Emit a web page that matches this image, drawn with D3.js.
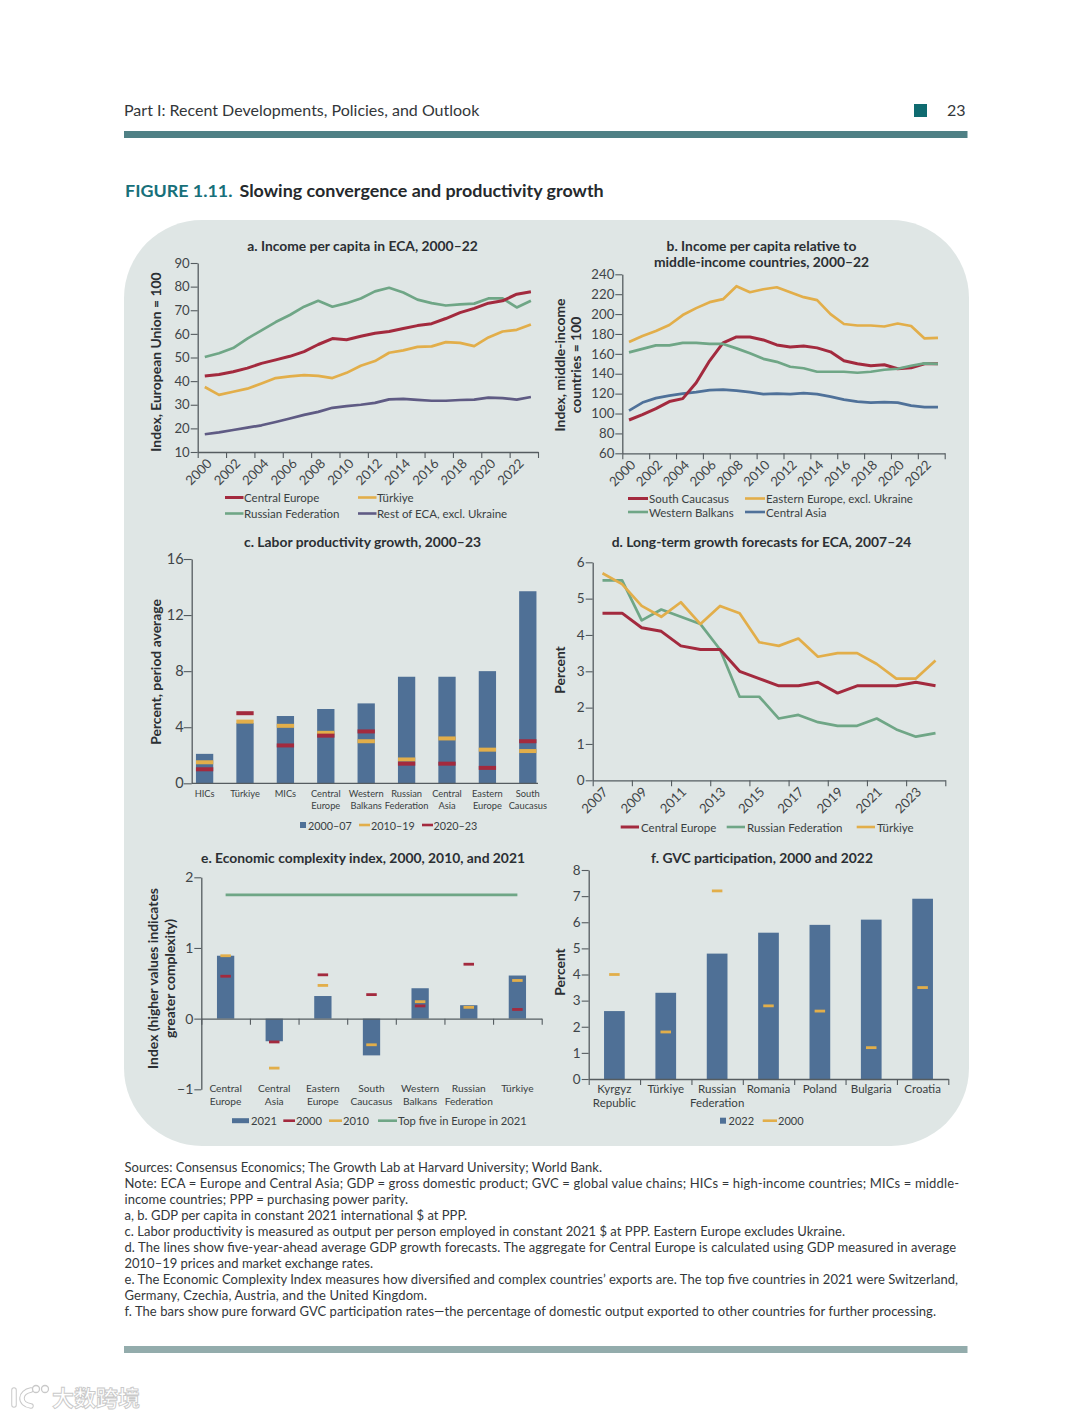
<!DOCTYPE html>
<html>
<head>
<meta charset="utf-8">
<script src="https://cdn.jsdelivr.net/npm/d3@7"></script>
<style>
body { margin: 0; background: #fff; }
text { font-family: Lato, "Open Sans", sans-serif; fill: #3a3f42; }
.ptitle { font-weight: 700; font-size: 13.85px; fill: #2b2f33; text-anchor: middle; }
.ytitle { font-weight: 700; font-size: 13.9px; fill: #2b2f33; text-anchor: middle; }
.tick text { font-family: Lato, sans-serif; fill: #3f4548; }
.leg { dominant-baseline: central; }
.note { font-size: 13px; fill: #33373a; }
</style>
</head>
<body>
<div id="chart"></div>
<script>
// panel a
var yearsA = d3.range(2000, 2024);
var aCentral = [42.2,42.8,44,45.5,47.5,49,50.5,52.5,55.5,58,57.5,59,60.3,61,62.3,63.5,64.3,66.5,69,70.8,73,74,76.8,77.8];
var aRussia = [50.2,51.8,54,58,61.5,65,68,71.5,74,71.5,73,75,78,79.5,77.5,74.5,73,72,72.5,72.8,75,75,71.2,74];
var aTurkiye = [37.5,34.2,35.5,36.8,39,41.3,42,42.5,42.2,41.3,43.5,46.5,48.5,52,53,54.5,54.7,56.5,56.2,54.8,58.5,61,61.7,64];
var aRest = [17.5,18.3,19.3,20.3,21.3,22.7,24.2,25.7,27,28.7,29.4,30,30.8,32.3,32.5,32.1,31.7,31.7,32,32.2,33,32.8,32.2,33.3];
// panel b
var bCaucasus = [93.5,99,105,112,115,131,153,171,177,177,174,169,167,168,166,162,153,150,148,149,145,146,150,150];
var bEastern = [172,178,183,189,199,206,212,215,228,222,225,227,222,217,214,200,190,188.5,188.5,187.5,190.5,188,175.5,176];
var bBalkans = [161.5,165,168.5,168.5,171,171,170,170,165.5,160.5,155,152,147,145.5,142,142,142,141,142,144,145,148,150.5,150];
var bAsia = [103,111,115.5,118,120,121.5,123.5,124,123,121.5,119.5,120,119.5,120.5,119.5,117,114,112,111,111.5,111,108,106.5,106.5];
// panel c
var cCats = [["HICs"],["Türkiye"],["MICs"],["Central","Europe"],["Western","Balkans"],["Russian","Federation"],["Central","Asia"],["Eastern","Europe"],["South","Caucasus"]];
var c0007 = [2.1,4.3,4.8,5.3,5.7,7.6,7.6,8.0,13.7];
var c1019 = [1.5,4.4,4.1,3.6,3.0,1.7,3.2,2.4,2.3];
var c2023 = [1.0,5.0,2.7,3.4,3.7,1.4,1.4,1.1,3.0];
// panel d
var yearsD = d3.range(2007, 2025);
var dCentral = [4.6,4.6,4.2,4.1,3.7,3.6,3.6,3.0,2.8,2.6,2.6,2.7,2.4,2.6,2.6,2.6,2.7,2.6];
var dRussia = [5.5,5.5,4.4,4.7,4.5,4.3,3.6,2.3,2.3,1.7,1.8,1.6,1.5,1.5,1.7,1.4,1.2,1.3];
var dTurkiye = [5.7,5.4,4.8,4.5,4.9,4.3,4.8,4.6,3.8,3.7,3.9,3.4,3.5,3.5,3.2,2.8,2.8,3.3];
// panel e
var eCats = [["Central","Europe"],["Central","Asia"],["Eastern","Europe"],["South","Caucasus"],["Western","Balkans"],["Russian","Federation"],["Türkiye"]];
var e2021 = [0.89,-0.32,0.32,-0.52,0.43,0.19,0.61];
var e2000 = [0.6,-0.33,0.62,0.34,0.18,0.77,0.13];
var e2010 = [0.89,-0.7,0.47,-0.37,0.24,0.16,0.54];
var eTopFive = 1.75;
// panel f
var fCats = [["Kyrgyz","Republic"],["Türkiye"],["Russian","Federation"],["Romania"],["Poland"],["Bulgaria"],["Croatia"]];
var f2022 = [2.6,3.3,4.8,5.6,5.9,6.1,6.9];
var f2000 = [4,1.8,7.2,2.8,2.6,1.2,3.5];

var noteLines = [
  "Sources: Consensus Economics; The Growth Lab at Harvard University; World Bank.",
  "Note: ECA = Europe and Central Asia; GDP = gross domestic product; GVC = global value chains; HICs = high-income countries; MICs = middle-",
  "income countries; PPP = purchasing power parity.",
  "a, b. GDP per capita in constant 2021 international $ at PPP.",
  "c. Labor productivity is measured as output per person employed in constant 2021 $ at PPP. Eastern Europe excludes Ukraine.",
  "d. The lines show five-year-ahead average GDP growth forecasts. The aggregate for Central Europe is calculated using GDP measured in average",
  "2010–19 prices and market exchange rates.",
  "e. The Economic Complexity Index measures how diversified and complex countries’ exports are. The top five countries in 2021 were Switzerland,",
  "Germany, Czechia, Austria, and the United Kingdom.",
  "f. The bars show pure forward GVC participation rates—the percentage of domestic output exported to other countries for further processing."
];
// right ends of the note lines, the page font is a bit wider than Lato
var noteEnds = [602, 959, 408, 467, 845, 956, 373, 958, 427, 936];

var RED = "#a32a3e", YELLOW = "#e2ae4a", GREEN = "#6fa686", PURPLE = "#5f5b84", BLUE = "#4f7199", BAR = "#4f7096", AXIS = "#555c60";

var svg = d3.select("#chart").append("svg").attr("width", 1080).attr("height", 1418);

// page furniture
svg.append("text").attr("x", 124).attr("y", 116).attr("font-size", 16).style("fill", "#33373a")
  .text("Part I: Recent Developments, Policies, and Outlook");
svg.append("rect").attr("x", 914).attr("y", 104).attr("width", 13).attr("height", 13).attr("fill", "#0f6b70");
svg.append("text").attr("x", 947).attr("y", 116).attr("font-size", 16).style("fill", "#33373a").text("23");
svg.append("rect").attr("x", 124).attr("y", 131).attr("width", 843.5).attr("height", 7).attr("fill", "#4f8085");
svg.append("rect").attr("x", 124).attr("y", 1346).attr("width", 843.5).attr("height", 7).attr("fill", "#93acac");

var fig = svg.append("text").attr("x", 125).attr("y", 197).attr("font-size", 17.9).attr("font-weight", 700);
fig.append("tspan").style("fill", "#17707a").text("FIGURE 1.11.");
fig.append("tspan").attr("dx", 7).style("fill", "#25292c").text("Slowing convergence and productivity growth");

svg.append("rect").attr("x", 124).attr("y", 220).attr("width", 845).attr("height", 926).attr("rx", 78).attr("ry", 78).attr("fill", "#dfe6e5");

svg.selectAll(".note").data(noteLines).enter().append("text")
  .attr("class", "note")
  .attr("x", 124.5)
  .attr("y", (d, i) => 1172 + i * 16)
  .attr("textLength", (d, i) => noteEnds[i] - 124.5)
  .attr("lengthAdjust", "spacing")
  .text(d => d);

// watermark
var wm = svg.append("g").attr("fill", "none").attr("stroke-linecap", "round");
var kLogo = "M14 1390V1405M31 1390C20 1392 18 1404 31 1406";
wm.append("path").attr("d", kLogo).attr("stroke", "#c9c9c9").attr("stroke-width", 5.5);
wm.append("path").attr("d", kLogo).attr("stroke", "#fff").attr("stroke-width", 3.5);
wm.append("circle").attr("cx", 36).attr("cy", 1389).attr("r", 3.5).attr("stroke", "#c9c9c9").attr("stroke-width", 1.3).attr("fill", "#fff");
wm.append("circle").attr("cx", 45).attr("cy", 1389).attr("r", 3.5).attr("stroke", "#c9c9c9").attr("stroke-width", 1.3).attr("fill", "#fff");
wm.append("text").attr("x", 52).attr("y", 1406).attr("font-size", 22).attr("font-weight", 700)
  .style("font-family", "'Noto Sans CJK SC'").style("fill", "#fff").style("stroke", "#c9c9c9").attr("stroke-width", 0.9).text("大数跨境");

function title(lines, cx, y) {
  lines.forEach(function(l, i) {
    svg.append("text").attr("class", "ptitle").attr("x", cx).attr("y", y + i * 16).text(l);
  });
}

function yTitle(lines, xs, cy) {
  lines.forEach(function(l, i) {
    svg.append("text").attr("class", "ytitle")
      .attr("transform", "translate(" + xs[i] + "," + cy + ") rotate(-90)")
      .text(l);
  });
}

function styleAxis(g, size) {
  g.selectAll(".domain").attr("stroke", AXIS).attr("stroke-width", 1.3);
  g.selectAll(".tick line").attr("stroke", AXIS).attr("stroke-width", 1.1);
  g.selectAll(".tick text").attr("font-size", size);
}

function yAxis(y, left, ticks, size) {
  var g = svg.append("g").attr("transform", "translate(" + left + ",0)")
    .call(d3.axisLeft(y).tickValues(ticks).tickSize(7).tickSizeOuter(0).tickPadding(1).tickFormat(d => d < 0 ? "−" + (-d) : d));
  styleAxis(g, size);
  return g;
}

// x axis with ticks on the band edges, labelled every `step` bands and turned 45 degrees
function yearAxis(labels, left, right, base, step, size, shift) {
  var edge = d3.scaleLinear().domain([0, labels.length]).range([left, right]);
  var g = svg.append("g").attr("transform", "translate(0," + base + ")")
    .call(d3.axisBottom(edge)
      .tickValues(d3.range(0, labels.length + 1, step))
      .tickSize(6).tickSizeOuter(0)
      .tickFormat(i => labels[i] === undefined ? "" : labels[i]));
  styleAxis(g, size);
  g.selectAll(".tick text")
    .attr("text-anchor", "end")
    .attr("transform", "translate(" + shift + ",0) rotate(-45)")
    .attr("dx", "-0.1em").attr("dy", "0.55em");
}

function drawLine(x, y, cats, vals, color, w) {
  svg.append("path")
    .datum(vals)
    .attr("fill", "none")
    .attr("stroke", color)
    .attr("stroke-width", w)
    .attr("stroke-linejoin", "round")
    .attr("d", d3.line().x((d, i) => x(cats[i]) + x.bandwidth() / 2).y(d => y(d)));
}

// items: [kind, color, x0, x1, text, textX, thickness]
function legend(items, cy, size) {
  items.forEach(function(it) {
    if (it[0] == "line") {
      svg.append("line").attr("x1", it[2]).attr("x2", it[3]).attr("y1", cy).attr("y2", cy)
        .attr("stroke", it[1]).attr("stroke-width", it[6] || 2.6);
    } else {
      var h = it[6] || 6;
      svg.append("rect").attr("x", it[2]).attr("y", cy - h / 2).attr("width", it[3] - it[2]).attr("height", h).attr("fill", it[1]);
    }
    svg.append("text").attr("class", "leg").attr("x", it[5]).attr("y", cy).attr("font-size", size).text(it[4]);
  });
}

function catLabels(x, keys, cats, y0, size, lh) {
  keys.forEach(function(k, i) {
    cats[i].forEach(function(l, j) {
      svg.append("text").attr("x", x(k) + x.bandwidth() / 2).attr("y", y0 + j * lh)
        .attr("text-anchor", "middle").attr("font-size", size).text(l);
    });
  });
}

function bars(x, y, keys, vals, color, w) {
  svg.selectAll(null).data(vals).enter().append("rect")
    .attr("x", (d, i) => x(keys[i]) + x.bandwidth() / 2 - w / 2)
    .attr("width", w)
    .attr("y", d => Math.min(y(d), y(0)))
    .attr("height", d => Math.abs(y(d) - y(0)))
    .attr("fill", color);
}

function markers(x, y, keys, vals, color, w, h) {
  svg.selectAll(null).data(vals).enter().append("rect")
    .attr("x", (d, i) => x(keys[i]) + x.bandwidth() / 2 - w / 2)
    .attr("width", w)
    .attr("y", d => y(d) - h / 2)
    .attr("height", h)
    .attr("fill", color);
}

// a. Income per capita
function panelA() {
  var x = d3.scaleBand().domain(yearsA).range([197.7, 538]);
  var y = d3.scaleLinear().domain([10, 90]).range([452, 263]);
  yAxis(y, 197.7, d3.range(10, 91, 10), 13.2);
  yearAxis(yearsA, 197.7, 538, 452, 2, 13.2, 4);
  title(["a. Income per capita in ECA, 2000–22"], 362.5, 251);
  yTitle(["Index, European Union = 100"], [161], 362);
  drawLine(x, y, yearsA, aRest, PURPLE, 2.7);
  drawLine(x, y, yearsA, aTurkiye, YELLOW, 2.7);
  drawLine(x, y, yearsA, aRussia, GREEN, 2.7);
  drawLine(x, y, yearsA, aCentral, RED, 3);
  legend([["line", RED, 225, 243.5, "Central Europe", 244, 3], ["line", YELLOW, 358, 376.5, "Türkiye", 377]], 497.5, 11.5);
  legend([["line", GREEN, 225, 243.5, "Russian Federation", 244], ["line", PURPLE, 358, 376.5, "Rest of ECA, excl. Ukraine", 377]], 513.5, 11.5);
}

// b. Income relative to MICs
function panelB() {
  var x = d3.scaleBand().domain(yearsA).range([622.3, 944.7]);
  var y = d3.scaleLinear().domain([60, 240]).range([453.3, 274.3]);
  yAxis(y, 622.3, d3.range(60, 241, 20), 13.2);
  yearAxis(yearsA, 622.3, 944.7, 453.3, 2, 13.2, 3);
  title(["b. Income per capita relative to", "middle-income countries, 2000–22"], 761.5, 251);
  yTitle(["Index, middle-income", "countries = 100"], [565, 580.5], 365);
  drawLine(x, y, yearsA, bAsia, BLUE, 2.7);
  drawLine(x, y, yearsA, bEastern, YELLOW, 2.7);
  drawLine(x, y, yearsA, bCaucasus, RED, 3);
  drawLine(x, y, yearsA, bBalkans, GREEN, 2.7);
  legend([["line", RED, 628, 648, "South Caucasus", 649, 3], ["line", YELLOW, 745, 765, "Eastern Europe, excl. Ukraine", 766]], 498.5, 11.5);
  legend([["line", GREEN, 628, 648, "Western Balkans", 649], ["line", BLUE, 745, 765, "Central Asia", 766]], 512, 11.5);
}

// c. Labor productivity
function panelC() {
  var keys = cCats.map(d => d.join(" "));
  var x = d3.scaleBand().domain(keys).range([184.4, 548]);
  var y = d3.scaleLinear().domain([0, 16]).range([783.3, 559]);
  bars(x, y, keys, c0007, BAR, 17.3);
  markers(x, y, keys, c1019, YELLOW, 17.3, 4);
  markers(x, y, keys, c2023, RED, 17.3, 4);
  yAxis(y, 191.7, [0, 4, 8, 12, 16], 14.5).selectAll(".tick line").attr("x2", -8);
  svg.append("line").attr("x1", 191.7).attr("x2", 538).attr("y1", y(0)).attr("y2", y(0)).attr("stroke", AXIS).attr("stroke-width", 1.3);
  catLabels(x, keys, cCats, 797, 9.3, 12);
  title(["c. Labor productivity growth, 2000–23"], 362.5, 547);
  yTitle(["Percent, period average"], [161], 672);
  legend([["rect", BAR, 300, 306, "2000–07", 308], ["line", YELLOW, 359, 370, "2010–19", 371], ["line", RED, 422, 433, "2020–23", 433.5]], 825, 10.8);
}

// d. Long-term forecasts
function panelD() {
  var x = d3.scaleBand().domain(yearsD).range([592.7, 945.3]);
  var y = d3.scaleLinear().domain([0, 6]).range([780.3, 562.3]);
  yAxis(y, 592.7, d3.range(0, 7), 13.5);
  yearAxis(yearsD, 592.7, 945.3, 780.3, 2, 13.2, 5);
  title(["d. Long-term growth forecasts for ECA, 2007–24"], 761.5, 547);
  yTitle(["Percent"], [565], 670);
  drawLine(x, y, yearsD, dRussia, GREEN, 2.7);
  drawLine(x, y, yearsD, dTurkiye, YELLOW, 2.7);
  drawLine(x, y, yearsD, dCentral, RED, 3);
  legend([["line", RED, 620.7, 639, "Central Europe", 641, 3], ["line", GREEN, 726.7, 745, "Russian Federation", 747], ["line", YELLOW, 856.7, 875, "Türkiye", 877]], 827, 11.5);
}

// band edge ticks for the two lower category charts
function edgeAxis(n, left, right, base) {
  var edge = d3.scaleLinear().domain([0, n]).range([left, right]);
  var g = svg.append("g").attr("transform", "translate(0," + base + ")")
    .call(d3.axisBottom(edge).tickValues(d3.range(0, n + 1)).tickSize(6).tickSizeOuter(0).tickFormat(""));
  styleAxis(g, 10);
}

// e. Economic complexity
function panelE() {
  var keys = eCats.map(d => d.join(" "));
  var x = d3.scaleBand().domain(keys).range([201.3, 541.7]);
  var y = d3.scaleLinear().domain([-1, 2]).range([1089.3, 877.3]);
  bars(x, y, keys, e2021, BAR, 17.3);
  markers(x, y, keys, e2010, YELLOW, 10.5, 2.8);
  markers(x, y, keys, e2000, RED, 10.5, 2.8);
  yAxis(y, 201.3, [-1, 0, 1, 2], 14);
  edgeAxis(7, 201.3, 541.7, y(0));
  svg.append("line").datum(eTopFive)
    .attr("x1", x(keys[0]) + x.bandwidth() / 2).attr("x2", x(keys[6]) + x.bandwidth() / 2)
    .attr("y1", y).attr("y2", y)
    .attr("stroke", GREEN).attr("stroke-width", 2.7);
  catLabels(x, keys, eCats, 1092, 10.2, 13);
  title(["e. Economic complexity index, 2000, 2010, and 2021"], 363, 862.5);
  yTitle(["Index (higher values indicates", "greater complexity)"], [158, 175], 978.5);
  legend([["rect", BAR, 232, 249, "2021", 251, 5], ["line", RED, 283.3, 295, "2000", 296], ["line", YELLOW, 329, 342, "2010", 343], ["line", GREEN, 378, 397, "Top five in Europe in 2021", 398]], 1120.7, 11.2);
}

// f. GVC participation
function panelF() {
  var keys = fCats.map(d => d.join(" "));
  var x = d3.scaleBand().domain(keys).range([588.7, 948.3]);
  var y = d3.scaleLinear().domain([0, 8]).range([1079, 870]);
  bars(x, y, keys, f2022, BAR, 20.7);
  markers(x, y, keys, f2000, YELLOW, 10.5, 2.8);
  yAxis(y, 588.7, d3.range(0, 9), 13.5);
  edgeAxis(7, 588.7, 948.3, y(0));
  catLabels(x, keys, fCats, 1093, 11.5, 13.5);
  title(["f. GVC participation, 2000 and 2022"], 762, 862.5);
  yTitle(["Percent"], [565], 972);
  legend([["rect", BAR, 720, 726, "2022", 728.5], ["line", YELLOW, 762.7, 777, "2000", 778]], 1120.7, 11);
}

panelA();
panelB();
panelC();
panelD();
panelE();
panelF();
</script>
</body>
</html>
